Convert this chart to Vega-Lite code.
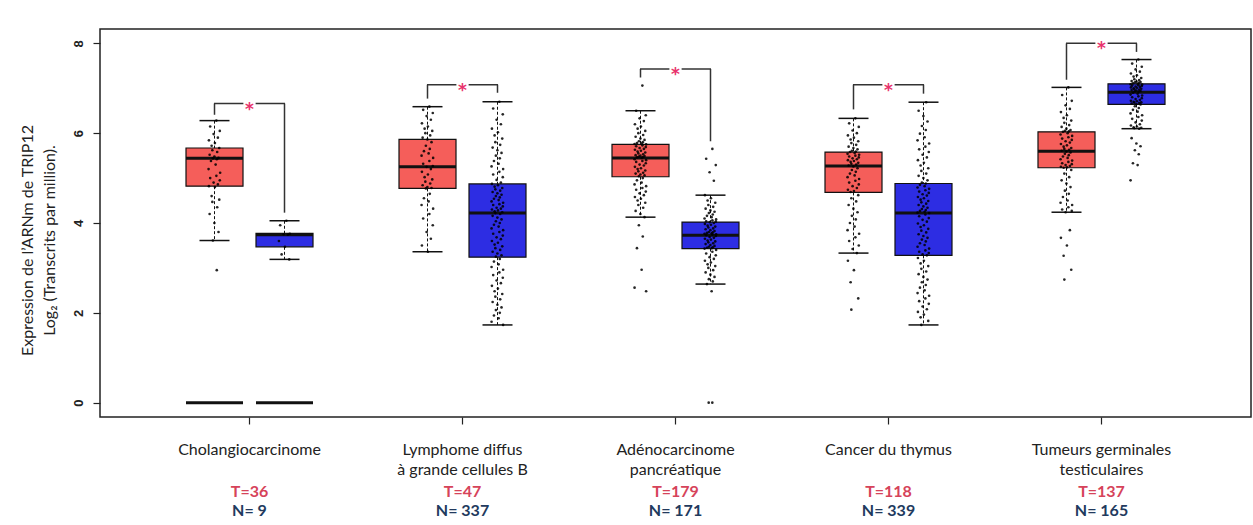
{
"$schema":"https://vega.github.io/schema/vega-lite/v6.json",
"width":1151,"height":388,
"autosize":"none",
"padding":{"left":100,"top":29,"right":2,"bottom":108},
"background":"white",
"config":{"view":{"stroke":"#222","strokeWidth":1.5},"axis":{"grid":false,"domain":false}},
"datasets":{
"stats":[
{"c":"CHOL","g":"T","lo":3.61,"q1":4.82,"med":5.44,"q3":5.67,"hi":6.28},
{"c":"CHOL","g":"N","lo":3.19,"q1":3.47,"med":3.74,"q3":3.77,"hi":4.05},
{"c":"DLBC","g":"T","lo":3.36,"q1":4.77,"med":5.25,"q3":5.86,"hi":6.59},
{"c":"DLBC","g":"N","lo":1.73,"q1":3.24,"med":4.22,"q3":4.87,"hi":6.70},
{"c":"PAAD","g":"T","lo":4.13,"q1":5.03,"med":5.45,"q3":5.75,"hi":6.50},
{"c":"PAAD","g":"N","lo":2.64,"q1":3.43,"med":3.73,"q3":4.02,"hi":4.62},
{"c":"THYM","g":"T","lo":3.33,"q1":4.68,"med":5.27,"q3":5.58,"hi":6.33},
{"c":"THYM","g":"N","lo":1.73,"q1":3.28,"med":4.22,"q3":4.88,"hi":6.69},
{"c":"TGCT","g":"T","lo":4.24,"q1":5.23,"med":5.60,"q3":6.03,"hi":7.02},
{"c":"TGCT","g":"N","lo":6.10,"q1":6.64,"med":6.91,"q3":7.10,"hi":7.64}
],
"zeros":[{"c":"CHOL","g":"T","v":0},{"c":"CHOL","g":"N","v":0}],
"legs":[
{"c":"CHOL","g":"T","b":6.41,"t":6.66},{"c":"CHOL","g":"N","b":4.23,"t":6.66},
{"c":"DLBC","g":"T","b":6.77,"t":7.08},{"c":"DLBC","g":"N","b":6.90,"t":7.08},
{"c":"PAAD","g":"T","b":7.24,"t":7.43},{"c":"PAAD","g":"N","b":5.82,"t":7.43},
{"c":"THYM","g":"T","b":6.53,"t":7.08},{"c":"THYM","g":"N","b":6.88,"t":7.08},
{"c":"TGCT","g":"T","b":7.19,"t":8.00},{"c":"TGCT","g":"N","b":7.81,"t":8.00}
],
"brackets":[{"c":"CHOL","t":6.66},{"c":"DLBC","t":7.08},{"c":"PAAD","t":7.43},{"c":"THYM","t":7.08},{"c":"TGCT","t":8.00}],
"counts":[
{"c":"CHOL","tl":"T=36","nl":"N= 9"},
{"c":"DLBC","tl":"T=47","nl":"N= 337"},
{"c":"PAAD","tl":"T=179","nl":"N= 171"},
{"c":"THYM","tl":"T=118","nl":"N= 339"},
{"c":"TGCT","tl":"T=137","nl":"N= 165"}
],
"points":[
{"c":"CHOL","g":"T","v":6.28,"j":0.31},{"c":"CHOL","g":"T","v":6.15,"j":-0.72},{"c":"CHOL","g":"T","v":6.05,"j":0.88},{"c":"CHOL","g":"T","v":5.98,"j":-0.15},{"c":"CHOL","g":"T","v":5.9,"j":0.56},{"c":"CHOL","g":"T","v":5.84,"j":-0.93},{"c":"CHOL","g":"T","v":5.78,"j":0.07},{"c":"CHOL","g":"T","v":5.72,"j":-0.48},{"c":"CHOL","g":"T","v":5.67,"j":0.79},{"c":"CHOL","g":"T","v":5.62,"j":-0.36},{"c":"CHOL","g":"T","v":5.58,"j":0.45},{"c":"CHOL","g":"T","v":5.52,"j":-0.81},{"c":"CHOL","g":"T","v":5.48,"j":-0.02},{"c":"CHOL","g":"T","v":5.45,"j":0.67},{"c":"CHOL","g":"T","v":5.44,"j":-0.27},{"c":"CHOL","g":"T","v":5.42,"j":0.38},{"c":"CHOL","g":"T","v":5.38,"j":-0.59},{"c":"CHOL","g":"T","v":5.3,"j":0.19},{"c":"CHOL","g":"T","v":5.2,"j":-0.99},{"c":"CHOL","g":"T","v":5.12,"j":0.94},{"c":"CHOL","g":"T","v":5.05,"j":0.31},{"c":"CHOL","g":"T","v":5.0,"j":-0.72},{"c":"CHOL","g":"T","v":4.95,"j":0.88},{"c":"CHOL","g":"T","v":4.9,"j":-0.15},{"c":"CHOL","g":"T","v":4.86,"j":0.56},{"c":"CHOL","g":"T","v":4.82,"j":-0.93},{"c":"CHOL","g":"T","v":4.8,"j":0.07},{"c":"CHOL","g":"T","v":4.6,"j":-0.48},{"c":"CHOL","g":"T","v":4.52,"j":0.79},{"c":"CHOL","g":"T","v":4.47,"j":-0.36},{"c":"CHOL","g":"T","v":4.35,"j":0.45},{"c":"CHOL","g":"T","v":4.2,"j":-0.81},{"c":"CHOL","g":"T","v":4.0,"j":-0.02},{"c":"CHOL","g":"T","v":3.8,"j":0.67},{"c":"CHOL","g":"T","v":3.61,"j":-0.27},{"c":"CHOL","g":"T","v":2.95,"j":0.38},
{"c":"CHOL","g":"N","v":4.05,"j":0.31},{"c":"CHOL","g":"N","v":3.95,"j":-0.72},{"c":"CHOL","g":"N","v":3.76,"j":0.88},{"c":"CHOL","g":"N","v":3.75,"j":-0.15},{"c":"CHOL","g":"N","v":3.74,"j":0.56},{"c":"CHOL","g":"N","v":3.6,"j":-0.93},{"c":"CHOL","g":"N","v":3.47,"j":0.07},{"c":"CHOL","g":"N","v":3.3,"j":-0.48},{"c":"CHOL","g":"N","v":3.19,"j":0.79},
{"c":"DLBC","g":"T","v":6.59,"j":0.31},{"c":"DLBC","g":"T","v":6.52,"j":-0.72},{"c":"DLBC","g":"T","v":6.45,"j":0.88},{"c":"DLBC","g":"T","v":6.38,"j":-0.15},{"c":"DLBC","g":"T","v":6.3,"j":0.56},{"c":"DLBC","g":"T","v":6.22,"j":-0.93},{"c":"DLBC","g":"T","v":6.15,"j":0.07},{"c":"DLBC","g":"T","v":6.1,"j":-0.48},{"c":"DLBC","g":"T","v":6.05,"j":0.79},{"c":"DLBC","g":"T","v":6.0,"j":-0.36},{"c":"DLBC","g":"T","v":5.95,"j":0.45},{"c":"DLBC","g":"T","v":5.9,"j":-0.81},{"c":"DLBC","g":"T","v":5.86,"j":-0.02},{"c":"DLBC","g":"T","v":5.8,"j":0.67},{"c":"DLBC","g":"T","v":5.72,"j":-0.27},{"c":"DLBC","g":"T","v":5.65,"j":0.38},{"c":"DLBC","g":"T","v":5.6,"j":-0.59},{"c":"DLBC","g":"T","v":5.55,"j":0.19},{"c":"DLBC","g":"T","v":5.5,"j":-0.99},{"c":"DLBC","g":"T","v":5.45,"j":0.94},{"c":"DLBC","g":"T","v":5.38,"j":0.31},{"c":"DLBC","g":"T","v":5.32,"j":-0.72},{"c":"DLBC","g":"T","v":5.27,"j":0.88},{"c":"DLBC","g":"T","v":5.25,"j":-0.15},{"c":"DLBC","g":"T","v":5.2,"j":0.56},{"c":"DLBC","g":"T","v":5.14,"j":-0.93},{"c":"DLBC","g":"T","v":5.08,"j":0.07},{"c":"DLBC","g":"T","v":5.02,"j":-0.48},{"c":"DLBC","g":"T","v":4.97,"j":0.79},{"c":"DLBC","g":"T","v":4.92,"j":-0.36},{"c":"DLBC","g":"T","v":4.88,"j":0.45},{"c":"DLBC","g":"T","v":4.84,"j":-0.81},{"c":"DLBC","g":"T","v":4.8,"j":-0.02},{"c":"DLBC","g":"T","v":4.78,"j":0.67},{"c":"DLBC","g":"T","v":4.77,"j":-0.27},{"c":"DLBC","g":"T","v":4.65,"j":0.38},{"c":"DLBC","g":"T","v":4.55,"j":-0.59},{"c":"DLBC","g":"T","v":4.48,"j":0.19},{"c":"DLBC","g":"T","v":4.4,"j":-0.99},{"c":"DLBC","g":"T","v":4.32,"j":0.94},{"c":"DLBC","g":"T","v":4.2,"j":0.31},{"c":"DLBC","g":"T","v":4.1,"j":-0.72},{"c":"DLBC","g":"T","v":3.95,"j":0.88},{"c":"DLBC","g":"T","v":3.8,"j":-0.15},{"c":"DLBC","g":"T","v":3.65,"j":0.56},{"c":"DLBC","g":"T","v":3.5,"j":-0.93},{"c":"DLBC","g":"T","v":3.36,"j":0.07},
{"c":"DLBC","g":"N","v":6.7,"j":0.31},{"c":"DLBC","g":"N","v":6.55,"j":-0.72},{"c":"DLBC","g":"N","v":6.42,"j":0.88},{"c":"DLBC","g":"N","v":6.3,"j":-0.15},{"c":"DLBC","g":"N","v":6.2,"j":0.56},{"c":"DLBC","g":"N","v":6.1,"j":-0.93},{"c":"DLBC","g":"N","v":6.02,"j":0.07},{"c":"DLBC","g":"N","v":5.95,"j":-0.48},{"c":"DLBC","g":"N","v":5.88,"j":0.79},{"c":"DLBC","g":"N","v":5.8,"j":-0.36},{"c":"DLBC","g":"N","v":5.74,"j":0.45},{"c":"DLBC","g":"N","v":5.68,"j":-0.81},{"c":"DLBC","g":"N","v":5.62,"j":-0.02},{"c":"DLBC","g":"N","v":5.56,"j":0.67},{"c":"DLBC","g":"N","v":5.5,"j":-0.27},{"c":"DLBC","g":"N","v":5.44,"j":0.38},{"c":"DLBC","g":"N","v":5.38,"j":-0.59},{"c":"DLBC","g":"N","v":5.32,"j":0.19},{"c":"DLBC","g":"N","v":5.26,"j":-0.99},{"c":"DLBC","g":"N","v":5.2,"j":0.94},{"c":"DLBC","g":"N","v":5.14,"j":0.31},{"c":"DLBC","g":"N","v":5.08,"j":-0.72},{"c":"DLBC","g":"N","v":5.02,"j":0.88},{"c":"DLBC","g":"N","v":4.96,"j":-0.15},{"c":"DLBC","g":"N","v":4.9,"j":0.56},
{"c":"DLBC","g":"N","v":4.87,"j":-0.93},{"c":"DLBC","g":"N","v":4.84,"j":0.07},{"c":"DLBC","g":"N","v":4.81,"j":-0.48},{"c":"DLBC","g":"N","v":4.78,"j":0.79},{"c":"DLBC","g":"N","v":4.75,"j":-0.36},{"c":"DLBC","g":"N","v":4.72,"j":0.45},{"c":"DLBC","g":"N","v":4.69,"j":-0.81},{"c":"DLBC","g":"N","v":4.66,"j":-0.02},{"c":"DLBC","g":"N","v":4.63,"j":0.67},{"c":"DLBC","g":"N","v":4.6,"j":-0.27},{"c":"DLBC","g":"N","v":4.57,"j":0.38},{"c":"DLBC","g":"N","v":4.54,"j":-0.59},{"c":"DLBC","g":"N","v":4.51,"j":0.19},{"c":"DLBC","g":"N","v":4.48,"j":-0.99},{"c":"DLBC","g":"N","v":4.45,"j":0.94},{"c":"DLBC","g":"N","v":4.42,"j":0.31},{"c":"DLBC","g":"N","v":4.4,"j":-0.72},{"c":"DLBC","g":"N","v":4.37,"j":0.88},{"c":"DLBC","g":"N","v":4.34,"j":-0.15},{"c":"DLBC","g":"N","v":4.32,"j":0.56},{"c":"DLBC","g":"N","v":4.3,"j":-0.93},{"c":"DLBC","g":"N","v":4.28,"j":0.07},{"c":"DLBC","g":"N","v":4.26,"j":-0.48},{"c":"DLBC","g":"N","v":4.24,"j":0.79},{"c":"DLBC","g":"N","v":4.22,"j":-0.36},
{"c":"DLBC","g":"N","v":4.2,"j":0.45},{"c":"DLBC","g":"N","v":4.16,"j":-0.81},{"c":"DLBC","g":"N","v":4.12,"j":-0.02},{"c":"DLBC","g":"N","v":4.08,"j":0.67},{"c":"DLBC","g":"N","v":4.04,"j":-0.27},{"c":"DLBC","g":"N","v":4.0,"j":0.38},{"c":"DLBC","g":"N","v":3.96,"j":-0.59},{"c":"DLBC","g":"N","v":3.92,"j":0.19},{"c":"DLBC","g":"N","v":3.88,"j":-0.99},{"c":"DLBC","g":"N","v":3.84,"j":0.94},{"c":"DLBC","g":"N","v":3.8,"j":0.31},{"c":"DLBC","g":"N","v":3.76,"j":-0.72},{"c":"DLBC","g":"N","v":3.72,"j":0.88},{"c":"DLBC","g":"N","v":3.68,"j":-0.15},{"c":"DLBC","g":"N","v":3.64,"j":0.56},{"c":"DLBC","g":"N","v":3.6,"j":-0.93},{"c":"DLBC","g":"N","v":3.56,"j":0.07},{"c":"DLBC","g":"N","v":3.52,"j":-0.48},{"c":"DLBC","g":"N","v":3.48,"j":0.79},{"c":"DLBC","g":"N","v":3.44,"j":-0.36},{"c":"DLBC","g":"N","v":3.4,"j":0.45},{"c":"DLBC","g":"N","v":3.36,"j":-0.81},{"c":"DLBC","g":"N","v":3.32,"j":-0.02},{"c":"DLBC","g":"N","v":3.28,"j":0.67},{"c":"DLBC","g":"N","v":3.25,"j":-0.27},
{"c":"DLBC","g":"N","v":3.2,"j":0.38},{"c":"DLBC","g":"N","v":3.14,"j":-0.59},{"c":"DLBC","g":"N","v":3.08,"j":0.19},{"c":"DLBC","g":"N","v":3.02,"j":-0.99},{"c":"DLBC","g":"N","v":2.96,"j":0.94},{"c":"DLBC","g":"N","v":2.9,"j":0.31},{"c":"DLBC","g":"N","v":2.84,"j":-0.72},{"c":"DLBC","g":"N","v":2.78,"j":0.88},{"c":"DLBC","g":"N","v":2.72,"j":-0.15},{"c":"DLBC","g":"N","v":2.66,"j":0.56},{"c":"DLBC","g":"N","v":2.6,"j":-0.93},{"c":"DLBC","g":"N","v":2.54,"j":0.07},{"c":"DLBC","g":"N","v":2.48,"j":-0.48},{"c":"DLBC","g":"N","v":2.42,"j":0.79},{"c":"DLBC","g":"N","v":2.36,"j":-0.36},{"c":"DLBC","g":"N","v":2.3,"j":0.45},{"c":"DLBC","g":"N","v":2.24,"j":-0.81},{"c":"DLBC","g":"N","v":2.18,"j":-0.02},{"c":"DLBC","g":"N","v":2.12,"j":0.67},{"c":"DLBC","g":"N","v":2.06,"j":-0.27},{"c":"DLBC","g":"N","v":2.0,"j":0.38},{"c":"DLBC","g":"N","v":1.94,"j":-0.59},{"c":"DLBC","g":"N","v":1.88,"j":0.19},{"c":"DLBC","g":"N","v":1.8,"j":-0.99},{"c":"DLBC","g":"N","v":1.73,"j":0.94},
{"c":"PAAD","g":"T","v":7.06,"j":0.31},{"c":"PAAD","g":"T","v":6.5,"j":-0.72},{"c":"PAAD","g":"T","v":6.4,"j":0.88},{"c":"PAAD","g":"T","v":6.33,"j":-0.15},{"c":"PAAD","g":"T","v":6.27,"j":0.56},{"c":"PAAD","g":"T","v":6.2,"j":-0.93},{"c":"PAAD","g":"T","v":6.15,"j":0.07},{"c":"PAAD","g":"T","v":6.1,"j":-0.48},{"c":"PAAD","g":"T","v":6.05,"j":0.79},{"c":"PAAD","g":"T","v":6.0,"j":-0.36},{"c":"PAAD","g":"T","v":5.96,"j":0.45},{"c":"PAAD","g":"T","v":5.92,"j":-0.81},{"c":"PAAD","g":"T","v":5.88,"j":-0.02},{"c":"PAAD","g":"T","v":5.85,"j":0.67},{"c":"PAAD","g":"T","v":5.82,"j":-0.27},{"c":"PAAD","g":"T","v":5.8,"j":0.38},{"c":"PAAD","g":"T","v":5.78,"j":-0.59},{"c":"PAAD","g":"T","v":5.77,"j":0.19},{"c":"PAAD","g":"T","v":5.76,"j":-0.99},
{"c":"PAAD","g":"T","v":5.75,"j":0.94},{"c":"PAAD","g":"T","v":5.73,"j":0.31},{"c":"PAAD","g":"T","v":5.71,"j":-0.72},{"c":"PAAD","g":"T","v":5.69,"j":0.88},{"c":"PAAD","g":"T","v":5.67,"j":-0.15},{"c":"PAAD","g":"T","v":5.65,"j":0.56},{"c":"PAAD","g":"T","v":5.63,"j":-0.93},{"c":"PAAD","g":"T","v":5.61,"j":0.07},{"c":"PAAD","g":"T","v":5.59,"j":-0.48},{"c":"PAAD","g":"T","v":5.57,"j":0.79},{"c":"PAAD","g":"T","v":5.55,"j":-0.36},{"c":"PAAD","g":"T","v":5.53,"j":0.45},{"c":"PAAD","g":"T","v":5.51,"j":-0.81},{"c":"PAAD","g":"T","v":5.5,"j":-0.02},{"c":"PAAD","g":"T","v":5.49,"j":0.67},{"c":"PAAD","g":"T","v":5.48,"j":-0.27},{"c":"PAAD","g":"T","v":5.47,"j":0.38},{"c":"PAAD","g":"T","v":5.46,"j":-0.59},
{"c":"PAAD","g":"T","v":5.45,"j":0.19},{"c":"PAAD","g":"T","v":5.42,"j":-0.99},{"c":"PAAD","g":"T","v":5.4,"j":0.94},{"c":"PAAD","g":"T","v":5.38,"j":0.31},{"c":"PAAD","g":"T","v":5.36,"j":-0.72},{"c":"PAAD","g":"T","v":5.33,"j":0.88},{"c":"PAAD","g":"T","v":5.3,"j":-0.15},{"c":"PAAD","g":"T","v":5.28,"j":0.56},{"c":"PAAD","g":"T","v":5.25,"j":-0.93},{"c":"PAAD","g":"T","v":5.22,"j":0.07},{"c":"PAAD","g":"T","v":5.2,"j":-0.48},{"c":"PAAD","g":"T","v":5.17,"j":0.79},{"c":"PAAD","g":"T","v":5.15,"j":-0.36},{"c":"PAAD","g":"T","v":5.12,"j":0.45},{"c":"PAAD","g":"T","v":5.1,"j":-0.81},{"c":"PAAD","g":"T","v":5.08,"j":-0.02},{"c":"PAAD","g":"T","v":5.06,"j":0.67},{"c":"PAAD","g":"T","v":5.04,"j":-0.27},
{"c":"PAAD","g":"T","v":5.0,"j":0.38},{"c":"PAAD","g":"T","v":4.95,"j":-0.59},{"c":"PAAD","g":"T","v":4.9,"j":0.19},{"c":"PAAD","g":"T","v":4.86,"j":-0.99},{"c":"PAAD","g":"T","v":4.82,"j":0.94},{"c":"PAAD","g":"T","v":4.78,"j":0.31},{"c":"PAAD","g":"T","v":4.74,"j":-0.72},{"c":"PAAD","g":"T","v":4.7,"j":0.88},{"c":"PAAD","g":"T","v":4.66,"j":-0.15},{"c":"PAAD","g":"T","v":4.62,"j":0.56},{"c":"PAAD","g":"T","v":4.58,"j":-0.93},{"c":"PAAD","g":"T","v":4.54,"j":0.07},{"c":"PAAD","g":"T","v":4.5,"j":-0.48},{"c":"PAAD","g":"T","v":4.45,"j":0.79},{"c":"PAAD","g":"T","v":4.4,"j":-0.36},{"c":"PAAD","g":"T","v":4.34,"j":0.45},{"c":"PAAD","g":"T","v":4.27,"j":-0.81},{"c":"PAAD","g":"T","v":4.2,"j":-0.02},{"c":"PAAD","g":"T","v":4.13,"j":0.67},
{"c":"PAAD","g":"T","v":3.95,"j":-0.27},{"c":"PAAD","g":"T","v":3.7,"j":0.38},{"c":"PAAD","g":"T","v":3.44,"j":-0.59},{"c":"PAAD","g":"T","v":2.96,"j":0.19},{"c":"PAAD","g":"T","v":2.56,"j":-0.99},{"c":"PAAD","g":"T","v":2.48,"j":0.94},
{"c":"PAAD","g":"N","v":5.65,"j":0.31},{"c":"PAAD","g":"N","v":5.43,"j":-0.72},{"c":"PAAD","g":"N","v":5.29,"j":0.88},{"c":"PAAD","g":"N","v":5.13,"j":-0.15},{"c":"PAAD","g":"N","v":4.94,"j":0.56},
{"c":"PAAD","g":"N","v":4.62,"j":-0.93},{"c":"PAAD","g":"N","v":4.55,"j":0.07},{"c":"PAAD","g":"N","v":4.5,"j":-0.48},{"c":"PAAD","g":"N","v":4.45,"j":0.79},{"c":"PAAD","g":"N","v":4.4,"j":-0.36},{"c":"PAAD","g":"N","v":4.36,"j":0.45},{"c":"PAAD","g":"N","v":4.32,"j":-0.81},{"c":"PAAD","g":"N","v":4.28,"j":-0.02},{"c":"PAAD","g":"N","v":4.25,"j":0.67},{"c":"PAAD","g":"N","v":4.22,"j":-0.27},{"c":"PAAD","g":"N","v":4.19,"j":0.38},{"c":"PAAD","g":"N","v":4.16,"j":-0.59},{"c":"PAAD","g":"N","v":4.13,"j":0.19},{"c":"PAAD","g":"N","v":4.1,"j":-0.99},{"c":"PAAD","g":"N","v":4.08,"j":0.94},{"c":"PAAD","g":"N","v":4.06,"j":0.31},{"c":"PAAD","g":"N","v":4.04,"j":-0.72},{"c":"PAAD","g":"N","v":4.03,"j":0.88},
{"c":"PAAD","g":"N","v":4.02,"j":-0.15},{"c":"PAAD","g":"N","v":4.0,"j":0.56},{"c":"PAAD","g":"N","v":3.98,"j":-0.93},{"c":"PAAD","g":"N","v":3.96,"j":0.07},{"c":"PAAD","g":"N","v":3.94,"j":-0.48},{"c":"PAAD","g":"N","v":3.92,"j":0.79},{"c":"PAAD","g":"N","v":3.9,"j":-0.36},{"c":"PAAD","g":"N","v":3.88,"j":0.45},{"c":"PAAD","g":"N","v":3.86,"j":-0.81},{"c":"PAAD","g":"N","v":3.84,"j":-0.02},{"c":"PAAD","g":"N","v":3.82,"j":0.67},{"c":"PAAD","g":"N","v":3.8,"j":-0.27},{"c":"PAAD","g":"N","v":3.79,"j":0.38},{"c":"PAAD","g":"N","v":3.78,"j":-0.59},{"c":"PAAD","g":"N","v":3.77,"j":0.19},{"c":"PAAD","g":"N","v":3.76,"j":-0.99},{"c":"PAAD","g":"N","v":3.75,"j":0.94},{"c":"PAAD","g":"N","v":3.74,"j":0.31},
{"c":"PAAD","g":"N","v":3.73,"j":-0.72},{"c":"PAAD","g":"N","v":3.71,"j":0.88},{"c":"PAAD","g":"N","v":3.69,"j":-0.15},{"c":"PAAD","g":"N","v":3.67,"j":0.56},{"c":"PAAD","g":"N","v":3.65,"j":-0.93},{"c":"PAAD","g":"N","v":3.63,"j":0.07},{"c":"PAAD","g":"N","v":3.61,"j":-0.48},{"c":"PAAD","g":"N","v":3.59,"j":0.79},{"c":"PAAD","g":"N","v":3.57,"j":-0.36},{"c":"PAAD","g":"N","v":3.55,"j":0.45},{"c":"PAAD","g":"N","v":3.53,"j":-0.81},{"c":"PAAD","g":"N","v":3.51,"j":-0.02},{"c":"PAAD","g":"N","v":3.49,"j":0.67},{"c":"PAAD","g":"N","v":3.47,"j":-0.27},{"c":"PAAD","g":"N","v":3.46,"j":0.38},{"c":"PAAD","g":"N","v":3.45,"j":-0.59},{"c":"PAAD","g":"N","v":3.44,"j":0.19},{"c":"PAAD","g":"N","v":3.43,"j":-0.99},
{"c":"PAAD","g":"N","v":3.4,"j":0.94},{"c":"PAAD","g":"N","v":3.36,"j":0.31},{"c":"PAAD","g":"N","v":3.32,"j":-0.72},{"c":"PAAD","g":"N","v":3.28,"j":0.88},{"c":"PAAD","g":"N","v":3.24,"j":-0.15},{"c":"PAAD","g":"N","v":3.2,"j":0.56},{"c":"PAAD","g":"N","v":3.16,"j":-0.93},{"c":"PAAD","g":"N","v":3.12,"j":0.07},{"c":"PAAD","g":"N","v":3.08,"j":-0.48},{"c":"PAAD","g":"N","v":3.04,"j":0.79},{"c":"PAAD","g":"N","v":3.0,"j":-0.36},{"c":"PAAD","g":"N","v":2.95,"j":0.45},{"c":"PAAD","g":"N","v":2.9,"j":-0.81},{"c":"PAAD","g":"N","v":2.85,"j":-0.02},{"c":"PAAD","g":"N","v":2.8,"j":0.67},{"c":"PAAD","g":"N","v":2.75,"j":-0.27},{"c":"PAAD","g":"N","v":2.7,"j":0.38},{"c":"PAAD","g":"N","v":2.64,"j":-0.59},
{"c":"PAAD","g":"N","v":2.48,"j":0.19},{"c":"PAAD","g":"N","v":0,"j":-0.3},{"c":"PAAD","g":"N","v":0,"j":0.3},
{"c":"THYM","g":"T","v":6.33,"j":0.31},{"c":"THYM","g":"T","v":6.22,"j":-0.72},{"c":"THYM","g":"T","v":6.14,"j":0.88},{"c":"THYM","g":"T","v":6.06,"j":-0.15},{"c":"THYM","g":"T","v":6.0,"j":0.56},{"c":"THYM","g":"T","v":5.95,"j":-0.93},{"c":"THYM","g":"T","v":5.9,"j":0.07},{"c":"THYM","g":"T","v":5.86,"j":-0.48},{"c":"THYM","g":"T","v":5.82,"j":0.79},{"c":"THYM","g":"T","v":5.78,"j":-0.36},{"c":"THYM","g":"T","v":5.74,"j":0.45},{"c":"THYM","g":"T","v":5.7,"j":-0.81},{"c":"THYM","g":"T","v":5.67,"j":-0.02},{"c":"THYM","g":"T","v":5.64,"j":0.67},{"c":"THYM","g":"T","v":5.61,"j":-0.27},{"c":"THYM","g":"T","v":5.59,"j":0.38},
{"c":"THYM","g":"T","v":5.58,"j":-0.59},{"c":"THYM","g":"T","v":5.56,"j":0.19},{"c":"THYM","g":"T","v":5.54,"j":-0.99},{"c":"THYM","g":"T","v":5.52,"j":0.94},{"c":"THYM","g":"T","v":5.5,"j":0.31},{"c":"THYM","g":"T","v":5.48,"j":-0.72},{"c":"THYM","g":"T","v":5.46,"j":0.88},{"c":"THYM","g":"T","v":5.44,"j":-0.15},{"c":"THYM","g":"T","v":5.42,"j":0.56},{"c":"THYM","g":"T","v":5.4,"j":-0.93},{"c":"THYM","g":"T","v":5.38,"j":0.07},{"c":"THYM","g":"T","v":5.36,"j":-0.48},{"c":"THYM","g":"T","v":5.34,"j":0.79},{"c":"THYM","g":"T","v":5.32,"j":-0.36},{"c":"THYM","g":"T","v":5.3,"j":0.45},{"c":"THYM","g":"T","v":5.28,"j":-0.81},
{"c":"THYM","g":"T","v":5.26,"j":-0.02},{"c":"THYM","g":"T","v":5.22,"j":0.67},{"c":"THYM","g":"T","v":5.18,"j":-0.27},{"c":"THYM","g":"T","v":5.14,"j":0.38},{"c":"THYM","g":"T","v":5.1,"j":-0.59},{"c":"THYM","g":"T","v":5.06,"j":0.19},{"c":"THYM","g":"T","v":5.02,"j":-0.99},{"c":"THYM","g":"T","v":4.98,"j":0.94},{"c":"THYM","g":"T","v":4.94,"j":0.31},{"c":"THYM","g":"T","v":4.9,"j":-0.72},{"c":"THYM","g":"T","v":4.86,"j":0.88},{"c":"THYM","g":"T","v":4.82,"j":-0.15},{"c":"THYM","g":"T","v":4.78,"j":0.56},{"c":"THYM","g":"T","v":4.74,"j":-0.93},{"c":"THYM","g":"T","v":4.71,"j":0.07},{"c":"THYM","g":"T","v":4.69,"j":-0.48},
{"c":"THYM","g":"T","v":4.62,"j":0.79},{"c":"THYM","g":"T","v":4.55,"j":-0.36},{"c":"THYM","g":"T","v":4.48,"j":0.45},{"c":"THYM","g":"T","v":4.4,"j":-0.81},{"c":"THYM","g":"T","v":4.32,"j":-0.02},{"c":"THYM","g":"T","v":4.24,"j":0.67},{"c":"THYM","g":"T","v":4.16,"j":-0.27},{"c":"THYM","g":"T","v":4.08,"j":0.38},{"c":"THYM","g":"T","v":4.0,"j":-0.59},{"c":"THYM","g":"T","v":3.92,"j":0.19},{"c":"THYM","g":"T","v":3.84,"j":-0.99},{"c":"THYM","g":"T","v":3.76,"j":0.94},{"c":"THYM","g":"T","v":3.68,"j":0.31},{"c":"THYM","g":"T","v":3.6,"j":-0.72},{"c":"THYM","g":"T","v":3.5,"j":0.88},{"c":"THYM","g":"T","v":3.42,"j":-0.15},{"c":"THYM","g":"T","v":3.33,"j":0.56},
{"c":"THYM","g":"T","v":3.16,"j":-0.93},{"c":"THYM","g":"T","v":2.95,"j":0.07},{"c":"THYM","g":"T","v":2.68,"j":-0.48},{"c":"THYM","g":"T","v":2.32,"j":0.79},{"c":"THYM","g":"T","v":2.07,"j":-0.36},
{"c":"THYM","g":"N","v":6.69,"j":0.45},{"c":"THYM","g":"N","v":6.5,"j":-0.81},{"c":"THYM","g":"N","v":6.38,"j":-0.02},{"c":"THYM","g":"N","v":6.26,"j":0.67},{"c":"THYM","g":"N","v":6.16,"j":-0.27},{"c":"THYM","g":"N","v":6.07,"j":0.38},{"c":"THYM","g":"N","v":5.99,"j":-0.59},{"c":"THYM","g":"N","v":5.91,"j":0.19},{"c":"THYM","g":"N","v":5.84,"j":-0.99},{"c":"THYM","g":"N","v":5.77,"j":0.94},{"c":"THYM","g":"N","v":5.7,"j":0.31},{"c":"THYM","g":"N","v":5.64,"j":-0.72},{"c":"THYM","g":"N","v":5.58,"j":0.88},{"c":"THYM","g":"N","v":5.52,"j":-0.15},{"c":"THYM","g":"N","v":5.46,"j":0.56},{"c":"THYM","g":"N","v":5.4,"j":-0.93},{"c":"THYM","g":"N","v":5.34,"j":0.07},{"c":"THYM","g":"N","v":5.28,"j":-0.48},{"c":"THYM","g":"N","v":5.22,"j":0.79},{"c":"THYM","g":"N","v":5.16,"j":-0.36},{"c":"THYM","g":"N","v":5.1,"j":0.45},{"c":"THYM","g":"N","v":5.05,"j":-0.81},{"c":"THYM","g":"N","v":5.0,"j":-0.02},{"c":"THYM","g":"N","v":4.95,"j":0.67},{"c":"THYM","g":"N","v":4.9,"j":-0.27},
{"c":"THYM","g":"N","v":4.88,"j":0.38},{"c":"THYM","g":"N","v":4.85,"j":-0.59},{"c":"THYM","g":"N","v":4.82,"j":0.19},{"c":"THYM","g":"N","v":4.79,"j":-0.99},{"c":"THYM","g":"N","v":4.76,"j":0.94},{"c":"THYM","g":"N","v":4.73,"j":0.31},{"c":"THYM","g":"N","v":4.7,"j":-0.72},{"c":"THYM","g":"N","v":4.67,"j":0.88},{"c":"THYM","g":"N","v":4.64,"j":-0.15},{"c":"THYM","g":"N","v":4.61,"j":0.56},{"c":"THYM","g":"N","v":4.58,"j":-0.93},{"c":"THYM","g":"N","v":4.55,"j":0.07},{"c":"THYM","g":"N","v":4.52,"j":-0.48},{"c":"THYM","g":"N","v":4.49,"j":0.79},{"c":"THYM","g":"N","v":4.46,"j":-0.36},{"c":"THYM","g":"N","v":4.43,"j":0.45},{"c":"THYM","g":"N","v":4.4,"j":-0.81},{"c":"THYM","g":"N","v":4.37,"j":-0.02},{"c":"THYM","g":"N","v":4.34,"j":0.67},{"c":"THYM","g":"N","v":4.31,"j":-0.27},{"c":"THYM","g":"N","v":4.29,"j":0.38},{"c":"THYM","g":"N","v":4.27,"j":-0.59},{"c":"THYM","g":"N","v":4.25,"j":0.19},{"c":"THYM","g":"N","v":4.23,"j":-0.99},{"c":"THYM","g":"N","v":4.22,"j":0.94},
{"c":"THYM","g":"N","v":4.19,"j":0.31},{"c":"THYM","g":"N","v":4.15,"j":-0.72},{"c":"THYM","g":"N","v":4.11,"j":0.88},{"c":"THYM","g":"N","v":4.07,"j":-0.15},{"c":"THYM","g":"N","v":4.03,"j":0.56},{"c":"THYM","g":"N","v":3.99,"j":-0.93},{"c":"THYM","g":"N","v":3.95,"j":0.07},{"c":"THYM","g":"N","v":3.91,"j":-0.48},{"c":"THYM","g":"N","v":3.87,"j":0.79},{"c":"THYM","g":"N","v":3.83,"j":-0.36},{"c":"THYM","g":"N","v":3.79,"j":0.45},{"c":"THYM","g":"N","v":3.75,"j":-0.81},{"c":"THYM","g":"N","v":3.71,"j":-0.02},{"c":"THYM","g":"N","v":3.67,"j":0.67},{"c":"THYM","g":"N","v":3.63,"j":-0.27},{"c":"THYM","g":"N","v":3.59,"j":0.38},{"c":"THYM","g":"N","v":3.55,"j":-0.59},{"c":"THYM","g":"N","v":3.51,"j":0.19},{"c":"THYM","g":"N","v":3.47,"j":-0.99},{"c":"THYM","g":"N","v":3.43,"j":0.94},{"c":"THYM","g":"N","v":3.39,"j":0.31},{"c":"THYM","g":"N","v":3.36,"j":-0.72},{"c":"THYM","g":"N","v":3.33,"j":0.88},{"c":"THYM","g":"N","v":3.3,"j":-0.15},{"c":"THYM","g":"N","v":3.28,"j":0.56},
{"c":"THYM","g":"N","v":3.22,"j":-0.93},{"c":"THYM","g":"N","v":3.16,"j":0.07},{"c":"THYM","g":"N","v":3.1,"j":-0.48},{"c":"THYM","g":"N","v":3.04,"j":0.79},{"c":"THYM","g":"N","v":2.98,"j":-0.36},{"c":"THYM","g":"N","v":2.92,"j":0.45},{"c":"THYM","g":"N","v":2.86,"j":-0.81},{"c":"THYM","g":"N","v":2.8,"j":-0.02},{"c":"THYM","g":"N","v":2.74,"j":0.67},{"c":"THYM","g":"N","v":2.68,"j":-0.27},{"c":"THYM","g":"N","v":2.62,"j":0.38},{"c":"THYM","g":"N","v":2.56,"j":-0.59},{"c":"THYM","g":"N","v":2.5,"j":0.19},{"c":"THYM","g":"N","v":2.44,"j":-0.99},{"c":"THYM","g":"N","v":2.38,"j":0.94},{"c":"THYM","g":"N","v":2.32,"j":0.31},{"c":"THYM","g":"N","v":2.26,"j":-0.72},{"c":"THYM","g":"N","v":2.2,"j":0.88},{"c":"THYM","g":"N","v":2.14,"j":-0.15},{"c":"THYM","g":"N","v":2.08,"j":0.56},{"c":"THYM","g":"N","v":2.02,"j":-0.93},{"c":"THYM","g":"N","v":1.96,"j":0.07},{"c":"THYM","g":"N","v":1.9,"j":-0.48},{"c":"THYM","g":"N","v":1.82,"j":0.79},{"c":"THYM","g":"N","v":1.73,"j":-0.36},
{"c":"TGCT","g":"T","v":7.02,"j":0.31},{"c":"TGCT","g":"T","v":6.85,"j":-0.72},{"c":"TGCT","g":"T","v":6.72,"j":0.88},{"c":"TGCT","g":"T","v":6.62,"j":-0.15},{"c":"TGCT","g":"T","v":6.54,"j":0.56},{"c":"TGCT","g":"T","v":6.47,"j":-0.93},{"c":"TGCT","g":"T","v":6.4,"j":0.07},{"c":"TGCT","g":"T","v":6.34,"j":-0.48},{"c":"TGCT","g":"T","v":6.28,"j":0.79},{"c":"TGCT","g":"T","v":6.23,"j":-0.36},{"c":"TGCT","g":"T","v":6.18,"j":0.45},{"c":"TGCT","g":"T","v":6.14,"j":-0.81},{"c":"TGCT","g":"T","v":6.1,"j":-0.02},{"c":"TGCT","g":"T","v":6.07,"j":0.67},{"c":"TGCT","g":"T","v":6.05,"j":-0.27},{"c":"TGCT","g":"T","v":6.04,"j":0.38},
{"c":"TGCT","g":"T","v":6.03,"j":-0.59},{"c":"TGCT","g":"T","v":6.0,"j":0.19},{"c":"TGCT","g":"T","v":5.97,"j":-0.99},{"c":"TGCT","g":"T","v":5.94,"j":0.94},{"c":"TGCT","g":"T","v":5.91,"j":0.31},{"c":"TGCT","g":"T","v":5.88,"j":-0.72},{"c":"TGCT","g":"T","v":5.85,"j":0.88},{"c":"TGCT","g":"T","v":5.82,"j":-0.15},{"c":"TGCT","g":"T","v":5.79,"j":0.56},{"c":"TGCT","g":"T","v":5.76,"j":-0.93},{"c":"TGCT","g":"T","v":5.73,"j":0.07},{"c":"TGCT","g":"T","v":5.7,"j":-0.48},{"c":"TGCT","g":"T","v":5.67,"j":0.79},{"c":"TGCT","g":"T","v":5.65,"j":-0.36},{"c":"TGCT","g":"T","v":5.63,"j":0.45},{"c":"TGCT","g":"T","v":5.61,"j":-0.81},
{"c":"TGCT","g":"T","v":5.59,"j":-0.02},{"c":"TGCT","g":"T","v":5.57,"j":0.67},{"c":"TGCT","g":"T","v":5.54,"j":-0.27},{"c":"TGCT","g":"T","v":5.51,"j":0.38},{"c":"TGCT","g":"T","v":5.48,"j":-0.59},{"c":"TGCT","g":"T","v":5.45,"j":0.19},{"c":"TGCT","g":"T","v":5.42,"j":-0.99},{"c":"TGCT","g":"T","v":5.39,"j":0.94},{"c":"TGCT","g":"T","v":5.36,"j":0.31},{"c":"TGCT","g":"T","v":5.33,"j":-0.72},{"c":"TGCT","g":"T","v":5.31,"j":0.88},{"c":"TGCT","g":"T","v":5.29,"j":-0.15},{"c":"TGCT","g":"T","v":5.27,"j":0.56},{"c":"TGCT","g":"T","v":5.25,"j":-0.93},{"c":"TGCT","g":"T","v":5.24,"j":0.07},{"c":"TGCT","g":"T","v":5.23,"j":-0.48},
{"c":"TGCT","g":"T","v":5.18,"j":0.79},{"c":"TGCT","g":"T","v":5.1,"j":-0.36},{"c":"TGCT","g":"T","v":5.02,"j":0.45},{"c":"TGCT","g":"T","v":4.95,"j":-0.81},{"c":"TGCT","g":"T","v":4.88,"j":-0.02},{"c":"TGCT","g":"T","v":4.8,"j":0.67},{"c":"TGCT","g":"T","v":4.72,"j":-0.27},{"c":"TGCT","g":"T","v":4.65,"j":0.38},{"c":"TGCT","g":"T","v":4.58,"j":-0.59},{"c":"TGCT","g":"T","v":4.5,"j":0.19},{"c":"TGCT","g":"T","v":4.45,"j":-0.99},{"c":"TGCT","g":"T","v":4.4,"j":0.94},{"c":"TGCT","g":"T","v":4.35,"j":0.31},{"c":"TGCT","g":"T","v":4.3,"j":-0.72},{"c":"TGCT","g":"T","v":4.27,"j":0.88},{"c":"TGCT","g":"T","v":4.24,"j":-0.15},
{"c":"TGCT","g":"T","v":3.84,"j":0.56},{"c":"TGCT","g":"T","v":3.67,"j":-0.93},{"c":"TGCT","g":"T","v":3.5,"j":0.07},{"c":"TGCT","g":"T","v":3.27,"j":-0.48},{"c":"TGCT","g":"T","v":2.96,"j":0.79},{"c":"TGCT","g":"T","v":2.74,"j":-0.36},
{"c":"TGCT","g":"N","v":7.64,"j":0.31},{"c":"TGCT","g":"N","v":7.55,"j":-0.72},{"c":"TGCT","g":"N","v":7.48,"j":0.88},{"c":"TGCT","g":"N","v":7.42,"j":-0.15},{"c":"TGCT","g":"N","v":7.37,"j":0.56},{"c":"TGCT","g":"N","v":7.33,"j":-0.93},{"c":"TGCT","g":"N","v":7.29,"j":0.07},{"c":"TGCT","g":"N","v":7.26,"j":-0.48},{"c":"TGCT","g":"N","v":7.23,"j":0.79},{"c":"TGCT","g":"N","v":7.2,"j":-0.36},{"c":"TGCT","g":"N","v":7.18,"j":0.45},{"c":"TGCT","g":"N","v":7.16,"j":-0.81},{"c":"TGCT","g":"N","v":7.15,"j":-0.02},{"c":"TGCT","g":"N","v":7.14,"j":0.67},{"c":"TGCT","g":"N","v":7.13,"j":-0.27},{"c":"TGCT","g":"N","v":7.12,"j":0.38},{"c":"TGCT","g":"N","v":7.11,"j":-0.59},{"c":"TGCT","g":"N","v":7.1,"j":0.19},
{"c":"TGCT","g":"N","v":7.09,"j":-0.99},{"c":"TGCT","g":"N","v":7.08,"j":0.94},{"c":"TGCT","g":"N","v":7.07,"j":0.31},{"c":"TGCT","g":"N","v":7.06,"j":-0.72},{"c":"TGCT","g":"N","v":7.05,"j":0.88},{"c":"TGCT","g":"N","v":7.04,"j":-0.15},{"c":"TGCT","g":"N","v":7.03,"j":0.56},{"c":"TGCT","g":"N","v":7.02,"j":-0.93},{"c":"TGCT","g":"N","v":7.01,"j":0.07},{"c":"TGCT","g":"N","v":7.0,"j":-0.48},{"c":"TGCT","g":"N","v":6.99,"j":0.79},{"c":"TGCT","g":"N","v":6.98,"j":-0.36},{"c":"TGCT","g":"N","v":6.97,"j":0.45},{"c":"TGCT","g":"N","v":6.96,"j":-0.81},{"c":"TGCT","g":"N","v":6.95,"j":-0.02},{"c":"TGCT","g":"N","v":6.94,"j":0.67},{"c":"TGCT","g":"N","v":6.93,"j":-0.27},{"c":"TGCT","g":"N","v":6.92,"j":0.38},
{"c":"TGCT","g":"N","v":6.9,"j":-0.59},{"c":"TGCT","g":"N","v":6.88,"j":0.19},{"c":"TGCT","g":"N","v":6.86,"j":-0.99},{"c":"TGCT","g":"N","v":6.84,"j":0.94},{"c":"TGCT","g":"N","v":6.82,"j":0.31},{"c":"TGCT","g":"N","v":6.8,"j":-0.72},{"c":"TGCT","g":"N","v":6.78,"j":0.88},{"c":"TGCT","g":"N","v":6.76,"j":-0.15},{"c":"TGCT","g":"N","v":6.74,"j":0.56},{"c":"TGCT","g":"N","v":6.72,"j":-0.93},{"c":"TGCT","g":"N","v":6.71,"j":0.07},{"c":"TGCT","g":"N","v":6.7,"j":-0.48},{"c":"TGCT","g":"N","v":6.69,"j":0.79},{"c":"TGCT","g":"N","v":6.68,"j":-0.36},{"c":"TGCT","g":"N","v":6.67,"j":0.45},{"c":"TGCT","g":"N","v":6.66,"j":-0.81},{"c":"TGCT","g":"N","v":6.65,"j":-0.02},{"c":"TGCT","g":"N","v":6.64,"j":0.67},
{"c":"TGCT","g":"N","v":6.6,"j":-0.27},{"c":"TGCT","g":"N","v":6.56,"j":0.38},{"c":"TGCT","g":"N","v":6.52,"j":-0.59},{"c":"TGCT","g":"N","v":6.48,"j":0.19},{"c":"TGCT","g":"N","v":6.44,"j":-0.99},{"c":"TGCT","g":"N","v":6.4,"j":0.94},{"c":"TGCT","g":"N","v":6.36,"j":0.31},{"c":"TGCT","g":"N","v":6.32,"j":-0.72},{"c":"TGCT","g":"N","v":6.28,"j":0.88},{"c":"TGCT","g":"N","v":6.24,"j":-0.15},{"c":"TGCT","g":"N","v":6.2,"j":0.56},{"c":"TGCT","g":"N","v":6.17,"j":-0.93},{"c":"TGCT","g":"N","v":6.15,"j":0.07},{"c":"TGCT","g":"N","v":6.13,"j":-0.48},{"c":"TGCT","g":"N","v":6.12,"j":0.79},{"c":"TGCT","g":"N","v":6.11,"j":-0.36},{"c":"TGCT","g":"N","v":6.1,"j":0.45},
{"c":"TGCT","g":"N","v":5.89,"j":-0.81},{"c":"TGCT","g":"N","v":5.77,"j":-0.02},{"c":"TGCT","g":"N","v":5.71,"j":0.67},{"c":"TGCT","g":"N","v":5.62,"j":-0.27},{"c":"TGCT","g":"N","v":5.53,"j":0.38},{"c":"TGCT","g":"N","v":5.33,"j":-0.59},{"c":"TGCT","g":"N","v":5.29,"j":0.19},{"c":"TGCT","g":"N","v":4.95,"j":-0.99}
]
},
"layer":[
{"data":{"name":"stats"},"mark":{"type":"rule","color":"#111","strokeWidth":1,"strokeDash":[3,2]},
 "encoding":{
  "x":{"field":"c","type":"nominal","sort":null,
   "scale":{"domain":["CHOL","DLBC","PAAD","THYM","TGCT"],"paddingInner":0,"paddingOuter":0.2019},
   "axis":{"labelExpr":"datum.value == 'CHOL' ? 'Cholangiocarcinome' : datum.value == 'DLBC' ? ['Lymphome diffus', 'à grande cellules B'] : datum.value == 'PAAD' ? ['Adénocarcinome', 'pancréatique'] : datum.value == 'THYM' ? 'Cancer du thymus' : ['Tumeurs germinales', 'testiculaires']",
    "labelFont":"Lato","labelFontSize":16,"labelColor":"#222","labelLineHeight":20,"labelPadding":17,"labelAngle":0,"labelBaseline":"top","labelLimit":400,
    "tickSize":7,"tickColor":"#222","tickWidth":1.2,"domain":false,"grid":false,"title":null}},
  "xOffset":{"field":"g","type":"nominal","scale":{"domain":["T","N"],"paddingInner":0.1857,"paddingOuter":0.6143}},
  "y":{"field":"hi","type":"quantitative","scale":{"domain":[-0.32,8.32],"nice":false,"zero":false},
   "axis":{"values":[0,2,4,6,8],"title":["Expression de l’ARNm de TRIP12","Log₂ (Transcrits par million)."],
    "titleFont":"Lato","titleFontSize":16,"titleFontWeight":"normal","titleColor":"#222","titleLineHeight":22,"titleAngle":-90,"titleAlign":"center","titleBaseline":"middle","titleX":-73,"titleY":211,
    "labelAngle":-90,"labelFont":"Liberation Sans","labelFontWeight":"bold","labelFontSize":13,"labelColor":"#222","labelPadding":8,
    "tickSize":7,"tickColor":"#222","tickWidth":1.2,"domain":false,"grid":false}},
  "y2":{"field":"q3"}}},
{"data":{"name":"stats"},"mark":{"type":"rule","color":"#111","strokeWidth":1,"strokeDash":[3,2]},
 "encoding":{"x":{"field":"c","type":"nominal","sort":null},
  "xOffset":{"field":"g","type":"nominal","scale":{"domain":["T","N"],"paddingInner":0.1857,"paddingOuter":0.6143}},
  "y":{"field":"q1","type":"quantitative"},"y2":{"field":"lo"}}},
{"data":{"name":"stats"},"mark":{"type":"bar","stroke":"#111","strokeWidth":1.2,"opacity":1},
 "encoding":{"x":{"field":"c","type":"nominal","sort":null},
  "xOffset":{"field":"g","type":"nominal","scale":{"domain":["T","N"],"paddingInner":0.1857,"paddingOuter":0.6143}},
  "y":{"field":"q1","type":"quantitative"},"y2":{"field":"q3"},
  "color":{"field":"g","type":"nominal","scale":{"domain":["T","N"],"range":["#f55e5a","#2d2de3"]},"legend":null}}},
{"data":{"name":"stats"},"mark":{"type":"tick","color":"#111","size":30,"thickness":1.5,"opacity":1},
 "encoding":{"x":{"field":"c","type":"nominal","sort":null},
  "xOffset":{"field":"g","type":"nominal","scale":{"domain":["T","N"],"paddingInner":0.1857,"paddingOuter":0.6143}},
  "y":{"field":"hi","type":"quantitative"}}},
{"data":{"name":"stats"},"mark":{"type":"tick","color":"#111","size":30,"thickness":1.5,"opacity":1},
 "encoding":{"x":{"field":"c","type":"nominal","sort":null},
  "xOffset":{"field":"g","type":"nominal","scale":{"domain":["T","N"],"paddingInner":0.1857,"paddingOuter":0.6143}},
  "y":{"field":"lo","type":"quantitative"}}},
{"data":{"name":"stats"},"mark":{"type":"tick","color":"#111","size":57,"thickness":3,"opacity":1},
 "encoding":{"x":{"field":"c","type":"nominal","sort":null},
  "xOffset":{"field":"g","type":"nominal","scale":{"domain":["T","N"],"paddingInner":0.1857,"paddingOuter":0.6143}},
  "y":{"field":"med","type":"quantitative"}}},
{"data":{"name":"zeros"},"mark":{"type":"tick","color":"#111","size":57,"thickness":3,"opacity":1},
 "encoding":{"x":{"field":"c","type":"nominal","sort":null},
  "xOffset":{"field":"g","type":"nominal","scale":{"domain":["T","N"],"paddingInner":0.1857,"paddingOuter":0.6143}},
  "y":{"field":"v","type":"quantitative"}}},
{"data":{"name":"points"},"transform":[{"filter":{"field":"g","equal":"T"}}],
 "mark":{"type":"circle","size":7,"color":"#000","opacity":0.85},
 "encoding":{"x":{"field":"c","type":"nominal","sort":null},
  "xOffset":{"field":"j","type":"quantitative","scale":{"domain":[-1,1],"range":[65.5,77.5],"zero":false,"nice":false}},
  "y":{"field":"v","type":"quantitative"}}},
{"data":{"name":"points"},"transform":[{"filter":{"field":"g","equal":"N"}}],
 "mark":{"type":"circle","size":7,"color":"#000","opacity":0.85},
 "encoding":{"x":{"field":"c","type":"nominal","sort":null},
  "xOffset":{"field":"j","type":"quantitative","scale":{"domain":[-1,1],"range":[135.5,147.5],"zero":false,"nice":false}},
  "y":{"field":"v","type":"quantitative"}}},
{"data":{"name":"legs"},"mark":{"type":"rule","color":"#333","strokeWidth":1.5},
 "encoding":{"x":{"field":"c","type":"nominal","sort":null},
  "xOffset":{"field":"g","type":"nominal","scale":{"domain":["T","N"],"paddingInner":0.1857,"paddingOuter":0.6143}},
  "y":{"field":"b","type":"quantitative"},"y2":{"field":"t"}}},
{"data":{"name":"brackets"},"mark":{"type":"tick","color":"#333","size":71,"thickness":1.5,"opacity":1},
 "encoding":{"x":{"field":"c","type":"nominal","sort":null},
  "y":{"field":"t","type":"quantitative"}}},
{"data":{"name":"brackets"},"mark":{"type":"square","size":150,"color":"white","opacity":1},
 "encoding":{"x":{"field":"c","type":"nominal","sort":null},
  "y":{"field":"t","type":"quantitative"}}},
{"data":{"name":"brackets"},"mark":{"type":"text","text":"*","font":"DejaVu Sans","fontSize":17,"fontWeight":"bold","color":"#e8336d","baseline":"middle","dy":6},
 "encoding":{"x":{"field":"c","type":"nominal","sort":null},
  "y":{"field":"t","type":"quantitative"}}},
{"data":{"name":"counts"},"mark":{"type":"text","font":"Lato","fontSize":16,"fontWeight":"bold","color":"#d6435a","baseline":"middle","clip":false},
 "encoding":{"x":{"field":"c","type":"nominal","sort":null},
  "y":{"datum":-1.985,"type":"quantitative"},
  "text":{"field":"tl"}}},
{"data":{"name":"counts"},"mark":{"type":"text","font":"Lato","fontSize":16,"fontWeight":"bold","color":"#223a5e","baseline":"middle","clip":false},
 "encoding":{"x":{"field":"c","type":"nominal","sort":null},
  "y":{"datum":-2.415,"type":"quantitative"},
  "text":{"field":"nl"}}}
],
"resolve":{"scale":{"xOffset":"independent"}}
}
